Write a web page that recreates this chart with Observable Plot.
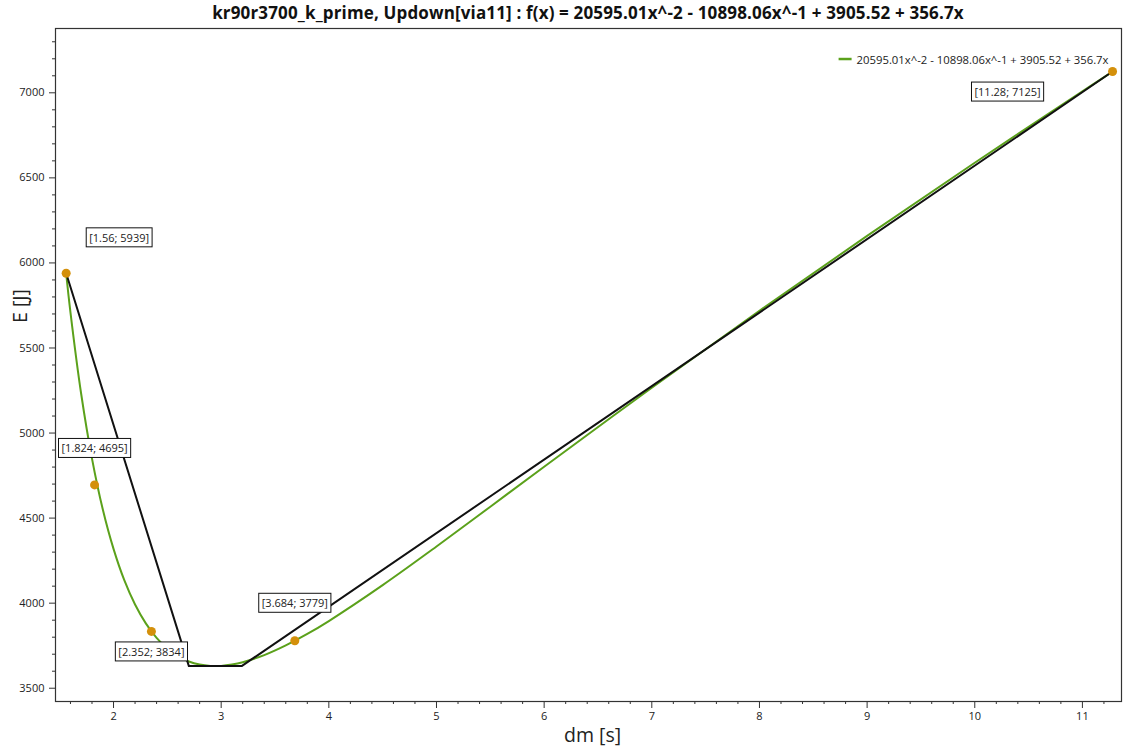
<!DOCTYPE html>
<html>
<head>
<meta charset="utf-8">
<script src="https://cdn.jsdelivr.net/npm/d3@7"></script>
<script src="https://cdn.jsdelivr.net/npm/@observablehq/plot@0.6"></script>
<style>
  body { margin: 0; background: #fff; font-family: "Open Sans", "Noto Sans", sans-serif; }
  #wrap { position: relative; width: 1123px; height: 746px; }
  #title { position: absolute; left: 55px; width: 1066px; top: 2px; text-align: center; z-index: 2;
           font: bold 17px "Open Sans", sans-serif; line-height: 22px; color: #111; letter-spacing: 0.15px; }
  #chart { position: absolute; left: 0; top: 20px; z-index: 1; }
</style>
</head>
<body>
<div id="wrap">
  <div id="title">kr90r3700_k_prime, Updown[via11] : f(x) = 20595.01x^-2 - 10898.06x^-1 + 3905.52 + 356.7x</div>
  <div id="chart"></div>
</div>
<script>
// Measured points
const pointX = [1.56, 1.824, 2.352, 3.684, 11.28];
const pointY = [5939, 4695, 3834, 3779, 7125];
const pointLabels = ["[1.56; 5939]", "[1.824; 4695]", "[2.352; 3834]", "[3.684; 3779]", "[11.28; 7125]"];

// Fitted curve (green)
const curveX = [1.56, 1.6, 1.7, 1.8, 1.9, 2.0, 2.1, 2.2, 2.3, 2.4, 2.5, 2.6, 2.7, 2.8, 2.9, 3.0, 3.1, 3.2, 3.4, 3.6, 3.8, 4.0, 4.5, 5.0, 5.5, 6.0, 7.0, 8.0, 9.0, 10.0, 11.0, 11.28];
const curveY = [5939, 5710, 5228, 4850, 4552, 4319, 4135, 3992, 3881, 3796, 3733, 3688, 3657, 3639, 3631, 3631, 3639, 3653, 3695, 3752, 3819, 3895, 4106, 4333, 4567, 4802, 5266, 5719, 6159, 6589, 7009, 7125];

// Envelope (black polyline)
const envX = [1.56, 2.70, 3.19, 11.28];
const envY = [5939, 3630, 3630, 7125];

const legendText = "20595.01x^-2 - 10898.06x^-1 + 3905.52 + 356.7x";
const xLabel = "dm [s]";
const yLabel = "E [J]";
const xMajor = [2, 3, 4, 5, 6, 7, 8, 9, 10, 11];
const yMajor = [3500, 4000, 4500, 5000, 5500, 6000, 6500, 7000];

const points = pointX.map((x, i) => ({x, y: pointY[i], label: pointLabels[i]}));
const curve = curveX.map((x, i) => ({x, y: curveY[i]}));
const env = envX.map((x, i) => ({x, y: envY[i]}));

const xMinor = d3.range(1.6, 11.31, 0.2).map(v => +v.toFixed(1)).filter(v => Math.abs(v - Math.round(v)) > 1e-6);
const yMinor = d3.range(3500, 7301, 100).filter(v => v % 500 !== 0);

// label offsets (px) relative to their points
const labelOffsets = [[53, -35], [0, -36], [0, 21], [0, -37], [-105, 21]];

const green = "#5ba11b";
const orange = "#d4900b";
const axisColor = "#333";

const labelMarks = points.map((p, i) => Plot.text([p], {
  x: "x", y: "y", text: "label", dx: labelOffsets[i][0], dy: labelOffsets[i][1],
  fontSize: 11, fill: "#222", className: "ptlabel"
}));

const plot = Plot.plot({
  width: 1123,
  height: 726,
  marginTop: 8,
  marginLeft: 55,
  marginRight: 2,
  marginBottom: 45,
  style: {fontFamily: "'Open Sans', sans-serif", fontSize: "11px", color: "#222", background: "transparent"},
  x: {domain: [1.461, 11.363]},
  y: {domain: [3422, 7378]},
  marks: [
    Plot.axisX({ticks: xMajor, tickSize: 7, tickPadding: 4, tickFormat: d => String(d), label: null, stroke: axisColor, fontSize: 11}),
    Plot.axisX({ticks: xMinor, tickSize: 3, text: null, label: null, stroke: axisColor}),
    Plot.axisY({ticks: yMajor, tickSize: 6, tickPadding: 5, tickFormat: d => String(d), label: null, stroke: axisColor, fontSize: 11}),
    Plot.axisY({ticks: yMinor, tickSize: 3, text: null, label: null, stroke: axisColor}),
    Plot.frame({stroke: axisColor, strokeWidth: 1.2}),
    Plot.line(curve, {x: "x", y: "y", stroke: green, strokeWidth: 2, curve: "catmull-rom"}),
    Plot.line(env, {x: "x", y: "y", stroke: "#111", strokeWidth: 2}),
    Plot.dot(points, {x: "x", y: "y", r: 4.5, fill: orange, stroke: "none"}),
    ...labelMarks,
    Plot.text([legendText], {frameAnchor: "top-right", dx: -13, dy: 27, text: d => d, textAnchor: "end", fontSize: 11.3, fill: "#222", className: "legendtxt"}),
    Plot.text([xLabel], {frameAnchor: "bottom", dx: 4, dy: 40, text: d => d, fontSize: 19.5, fill: "#222"}),
    Plot.text([yLabel], {frameAnchor: "left", dx: -35, dy: -42, rotate: -90, text: d => d, fontSize: 19.5, fill: "#222", letterSpacing: 1.5})
  ]
});

document.getElementById("chart").appendChild(plot);

// Boxes behind point labels
const svg = d3.select(plot);
svg.selectAll("g.ptlabel text").each(function() {
  const bb = this.getBBox();
  const g = this.parentNode;
  const tr = this.getAttribute("transform");
  const rect = document.createElementNS("http://www.w3.org/2000/svg", "rect");
  rect.setAttribute("x", bb.x - 3);
  rect.setAttribute("y", bb.y - 2);
  rect.setAttribute("width", bb.width + 6);
  rect.setAttribute("height", bb.height + 4);
  rect.setAttribute("fill", "#fff");
  rect.setAttribute("stroke", "#111");
  rect.setAttribute("stroke-width", 1);
  if (tr) rect.setAttribute("transform", tr);
  g.insertBefore(rect, this);
});

// Legend swatch
svg.selectAll("g.legendtxt text").each(function() {
  const bb = this.getBBox();
  const g = this.parentNode;
  const tr = this.getAttribute("transform");
  const line = document.createElementNS("http://www.w3.org/2000/svg", "line");
  line.setAttribute("x1", bb.x - 18);
  line.setAttribute("x2", bb.x - 5);
  line.setAttribute("y1", bb.y + bb.height / 2);
  line.setAttribute("y2", bb.y + bb.height / 2);
  line.setAttribute("stroke", green);
  line.setAttribute("stroke-width", 2.5);
  if (tr) line.setAttribute("transform", tr);
  g.insertBefore(line, this);
});
</script>
</body>
</html>
